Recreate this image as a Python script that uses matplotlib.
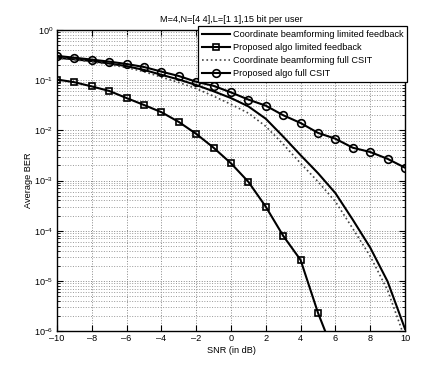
import numpy as np
import matplotlib
matplotlib.use("Agg")
import matplotlib.pyplot as plt
from matplotlib.ticker import LogLocator, NullFormatter

plt.rcParams['font.family'] = ['Liberation Sans', 'DejaVu Sans']
plt.rcParams['mathtext.default'] = 'regular'
plt.rcParams['font.size'] = 6.6

snr = list(range(-10, 11))
coord_limited = [0.28, 0.26, 0.24, 0.215, 0.19, 0.16, 0.128, 0.103, 0.080, 0.06, 0.044,
                 0.030, 0.017, 0.0075, 0.0032, 0.0014, 5.6e-4, 1.65e-4, 4.6e-5, 9.7e-6, 1.1e-6]
prop_limited = [0.103, 0.091, 0.075, 0.061, 0.044, 0.032, 0.023, 0.0147, 0.0085, 0.0045, 0.0022,
                9.4e-4, 3.0e-4, 7.9e-5, 2.6e-5, 2.3e-6, 3e-7]
snr_prop_limited = list(range(-10, 7))
coord_full = [0.275, 0.255, 0.232, 0.205, 0.178, 0.148, 0.115, 0.09, 0.068, 0.048, 0.033,
              0.022, 0.012, 0.0053, 0.0022, 9.5e-4, 3.8e-4, 1.1e-4, 3.1e-5, 6.5e-6, 7e-7]
prop_full = [0.305, 0.28, 0.257, 0.234, 0.21, 0.183, 0.148, 0.121, 0.093, 0.077, 0.057,
             0.041, 0.031, 0.020, 0.014, 0.0089, 0.0068, 0.0045, 0.0037, 0.0027, 0.0018]
xticks = list(range(-10, 11, 2))
xticklabels = [('\u2013' + str(-v)) if v < 0 else str(v) for v in xticks]

fig = plt.figure(figsize=(4.47, 3.73), dpi=100)
ax = fig.add_axes([57/447, 1-331/373, (405-57)/447, (331-30)/373])

ax.semilogy(snr, coord_limited, '-', color='black', lw=1.5,
            label='Coordinate beamforming limited feedback')
ax.semilogy(snr_prop_limited, prop_limited, '-s', color='black', lw=1.5, ms=4.8,
            mfc='none', mew=1.2, label='Proposed algo limited feedback')
ax.semilogy(snr, coord_full, ':', color='#444444', lw=1.2,
            label='Coordinate beamforming full CSIT')
ax.semilogy(snr, prop_full, '-o', color='black', lw=1.5, ms=5.5,
            mfc='none', mew=1.2, label='Proposed algo full CSIT')

ax.set_xlim(-10, 10)
ax.set_ylim(1e-6, 1)
ax.set_xticks(xticks)
ax.set_xticklabels(xticklabels)
ax.yaxis.set_major_locator(LogLocator(base=10, numticks=10))
ax.yaxis.set_minor_locator(LogLocator(base=10, subs=np.arange(2, 10), numticks=20))
ax.yaxis.set_minor_formatter(NullFormatter())

ax.grid(True, which='major', linestyle=':', color='#888888', lw=0.7)
ax.grid(True, which='minor', axis='y', linestyle=':', color='#999999', lw=0.7)
ax.tick_params(which='both', direction='in', top=True, right=True, labelsize=6.6, pad=2.5)
ax.tick_params(which='major', length=4)
ax.tick_params(which='minor', length=2)
for s in ax.spines.values():
    s.set_linewidth(1.0)

ax.set_title('M=4,N=[4 4],L=[1 1],15 bit per user', fontsize=6.6, pad=6)
ax.set_xlabel('SNR (in dB)', fontsize=6.6, labelpad=2)
ax.set_ylabel('Average BER', fontsize=6.6, labelpad=1)

leg = ax.legend(loc='upper right', bbox_to_anchor=(1.006, 1.012), fontsize=6.6,
                fancybox=False, framealpha=1, edgecolor='black', borderaxespad=0,
                handlelength=3.0, labelspacing=0.45, borderpad=0.4, handletextpad=0.35)
leg.get_frame().set_linewidth(0.9)

fig.savefig('out.png', dpi=100)
